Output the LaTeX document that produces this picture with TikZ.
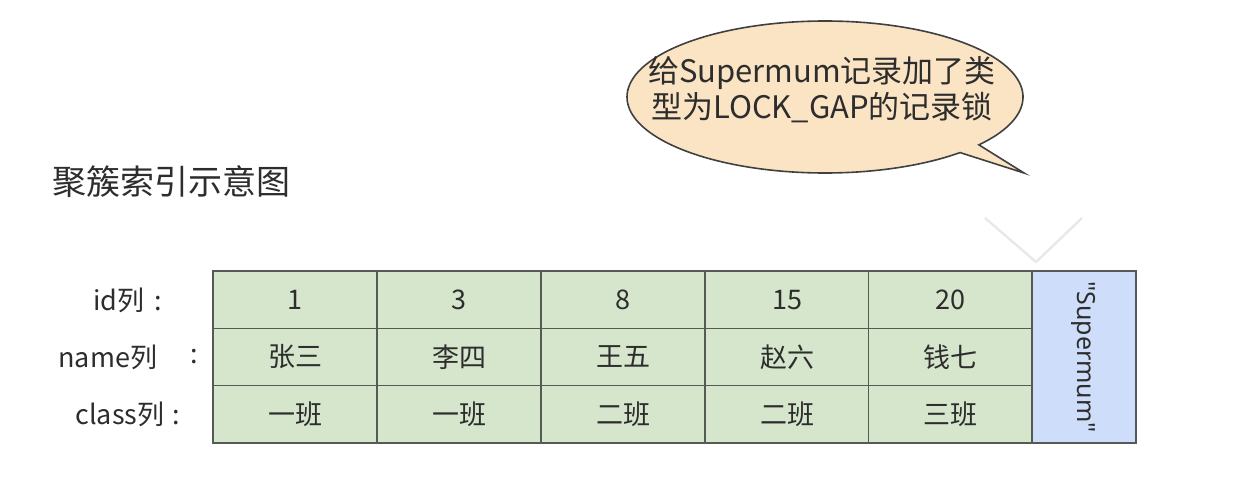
\documentclass[tikz,border=0pt]{standalone}
\usepackage{fontspec}
\setmainfont{Noto Sans CJK SC}
\newfontfamily\latinfont{Noto Sans}
\definecolor{cellgreen}{RGB}{214,230,204}
\definecolor{cellblue}{RGB}{206,222,250}
\definecolor{bubblefill}{RGB}{250,228,196}
\definecolor{linegray}{RGB}{85,90,85}
\definecolor{txt}{RGB}{45,45,45}
\tikzset{
  cell/.style={draw=linegray, fill=cellgreen, line width=0.6pt, minimum width=82pt, minimum height=28.7pt, inner sep=0pt, text=txt, font=\fontsize{13.5pt}{16pt}\selectfont},
  supbox/.style={draw=linegray, fill=cellblue, line width=0.6pt, minimum width=86pt, minimum height=52pt, inner sep=0pt, text=txt, font=\latinfont\fontsize{12.5pt}{15pt}\selectfont, rotate=-90},
  rowlabel/.style={anchor=west, inner sep=0pt, text=txt, font=\fontsize{13.5pt}{16pt}\selectfont},
}
\begin{document}
\begin{tikzpicture}[x=0.5pt,y=-0.5pt]
\useasboundingbox (0,0) rectangle (1234,476);
% faint stray mark
\draw[gray!18, line width=1.2pt] (985,218) -- (1036,262) (1082,218) -- (1036,262);
% title
\node[anchor=west, inner sep=0pt, text=txt, font=\fontsize{17pt}{20pt}\selectfont] (title) at (52,182) {聚簇索引示意图};
% speech bubble
\filldraw[fill=bubblefill, draw=black!75, line width=0.8pt]
  plot[domain=47:399, samples=220, smooth] ({825+198*cos(\x)},{97+76*sin(\x)}) -- (1024,173) -- cycle;
\node[align=center, text=txt, inner sep=0pt, font=\fontsize{15.5pt}{18pt}\selectfont] (note) at (822,90) {给Supermum记录加了类\\型为LOCK\_GAP的记录锁};
% row labels
\node[rowlabel] (lid) at (93,300) {id列\hspace{0.35em}:};
\node[rowlabel] (lname) at (58,357) {name列};
\node[rowlabel] (lnamec) at (190,357) {:};
\node[rowlabel] (lclass) at (75,414) {class列\hspace{0.3em}:};
% table cells
\node[cell] (a1) at (295,299.7) {1};
\node[cell] (a2) at (459,299.7) {3};
\node[cell] (a3) at (623,299.7) {8};
\node[cell] (a4) at (787,299.7) {15};
\node[cell] (a5) at (950.5,299.7) {20};
\node[cell] (b1) at (295,357) {张三};
\node[cell] (b2) at (459,357) {李四};
\node[cell] (b3) at (623,357) {王五};
\node[cell] (b4) at (787,357) {赵六};
\node[cell] (b5) at (950.5,357) {钱七};
\node[cell] (c1) at (295,414.3) {一班};
\node[cell] (c2) at (459,414.3) {一班};
\node[cell] (c3) at (623,414.3) {二班};
\node[cell] (c4) at (787,414.3) {二班};
\node[cell] (c5) at (950.5,414.3) {三班};
\node[supbox] (sup) at (1084,357) {"Supermum"};
\end{tikzpicture}
\end{document}
